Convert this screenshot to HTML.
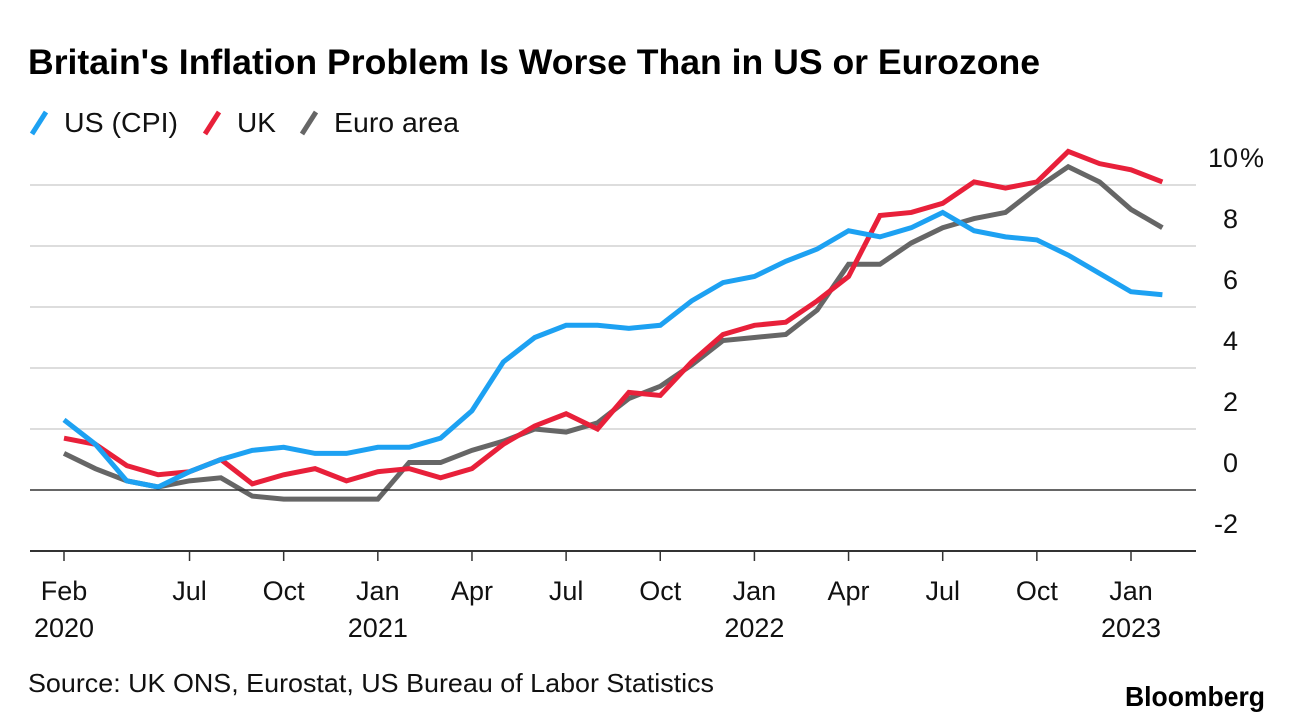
<!DOCTYPE html>
<html><head><meta charset="utf-8"><style>
body{margin:0;background:#fff;width:1292px;height:722px;overflow:hidden;font-family:"Liberation Sans",sans-serif}
</style></head><body>
<svg width="1292" height="722">
<text x="28" y="74" font-size="35" font-weight="bold" fill="#000" textLength="1012" lengthAdjust="spacingAndGlyphs">Britain's Inflation Problem Is Worse Than in US or Eurozone</text>
<g font-size="28" fill="#111">
<line x1="32" y1="134" x2="46" y2="112" stroke="#1da1f2" stroke-width="5"/>
<text x="64" y="132" textLength="114" lengthAdjust="spacingAndGlyphs">US (CPI)</text>
<line x1="205" y1="134" x2="219" y2="112" stroke="#e8203a" stroke-width="5"/>
<text x="237" y="132">UK</text>
<line x1="302" y1="134" x2="316" y2="112" stroke="#666" stroke-width="5"/>
<text x="334" y="132" textLength="125" lengthAdjust="spacingAndGlyphs">Euro area</text>
</g>
<g id="grid"></g><g id="lines"></g><g id="axes"></g>
<text x="28" y="692" font-size="26" fill="#111" textLength="686" lengthAdjust="spacingAndGlyphs">Source: UK ONS, Eurostat, US Bureau of Labor Statistics</text>
<text x="1265" y="706" font-size="28" font-weight="bold" text-anchor="end" fill="#000" textLength="140" lengthAdjust="spacingAndGlyphs">Bloomberg</text>
</svg>
<script>
const usValues=[2.3,1.5,0.3,0.1,0.6,1.0,1.3,1.4,1.2,1.2,1.4,1.4,1.7,2.6,4.2,5.0,5.4,5.4,5.3,5.4,6.2,6.8,7.0,7.5,7.9,8.5,8.3,8.6,9.1,8.5,8.3,8.2,7.7,7.1,6.5,6.4];
const ukValues=[1.7,1.5,0.8,0.5,0.6,1.0,0.2,0.5,0.7,0.3,0.6,0.7,0.4,0.7,1.5,2.1,2.5,2.0,3.2,3.1,4.2,5.1,5.4,5.5,6.2,7.0,9.0,9.1,9.4,10.1,9.9,10.1,11.1,10.7,10.5,10.1];
const euroValues=[1.2,0.7,0.3,0.1,0.3,0.4,-0.2,-0.3,-0.3,-0.3,-0.3,0.9,0.9,1.3,1.6,2.0,1.9,2.2,3.0,3.4,4.1,4.9,5.0,5.1,5.9,7.4,7.4,8.1,8.6,8.9,9.1,9.9,10.6,10.1,9.2,8.6];
const yTicks=[-2,0,2,4,6,8,10];
const yTickLabels=["-2","0","2","4","6","8","10"];
const xTickIdx=[0,4,7,10,13,16,19,22,25,28,31,34];
const xTickLabels=["Feb","Jul","Oct","Jan","Apr","Jul","Oct","Jan","Apr","Jul","Oct","Jan"];
const xYearIdx=[0,10,22,34];
const xYearLabels=["2020","2021","2022","2023"];
const NS="http://www.w3.org/2000/svg";
const x=i=>64+i*(1131-64)/34;
const y=v=>490-v*30.5;
function mk(t,a,p){const e=document.createElementNS(NS,t);for(const k in a)e.setAttribute(k,a[k]);p.appendChild(e);return e;}
const grid=document.getElementById('grid'),lines=document.getElementById('lines'),axes=document.getElementById('axes');
yTicks.forEach((v,i)=>{
 const g=mk('line',{x1:30,x2:1196,y1:y(v),y2:y(v),stroke:v===0||v===-2?'#333':'#ddd','stroke-width':v===0?1.6:2},v===0||v===-2?axes:grid);
 
 
 const t=mk('text',{x:1238,y:y(v)-18,'font-size':27,'text-anchor':'end',fill:'#111'},axes);
 t.textContent=yTickLabels[i];
 
 
 if(i===yTicks.length-1){
  const p=mk('text',{x:1240,y:y(v)-18,'font-size':27,fill:'#111'},axes);
  p.textContent='%';
  
  
 }
});
xTickIdx.forEach((ix,i)=>{
 const l=mk('line',{x1:x(ix),x2:x(ix),y1:551,y2:561,stroke:'#333','stroke-width':1.5},axes);
 
 
 const t=mk('text',{x:x(ix),y:600,'font-size':27,'text-anchor':'middle',fill:'#111'},axes);
 t.textContent=xTickLabels[i];
 
 
});
xYearIdx.forEach((ix,i)=>{
 const t=mk('text',{x:x(ix),y:637,'font-size':27,'text-anchor':'middle',fill:'#111'},axes);
 t.textContent=xYearLabels[i];
 
 
});
[[euroValues,'#666','euro-area-line'],[ukValues,'#e8203a','uk-line'],[usValues,'#1da1f2','us-line']].forEach(([d,c,n])=>{
 const p=mk('polyline',{points:d.map((v,i)=>x(i)+','+y(v)).join(' '),fill:'none',stroke:c,'stroke-width':5,'stroke-linejoin':'miter'},lines);
 
 
});
</script>
</body></html>
